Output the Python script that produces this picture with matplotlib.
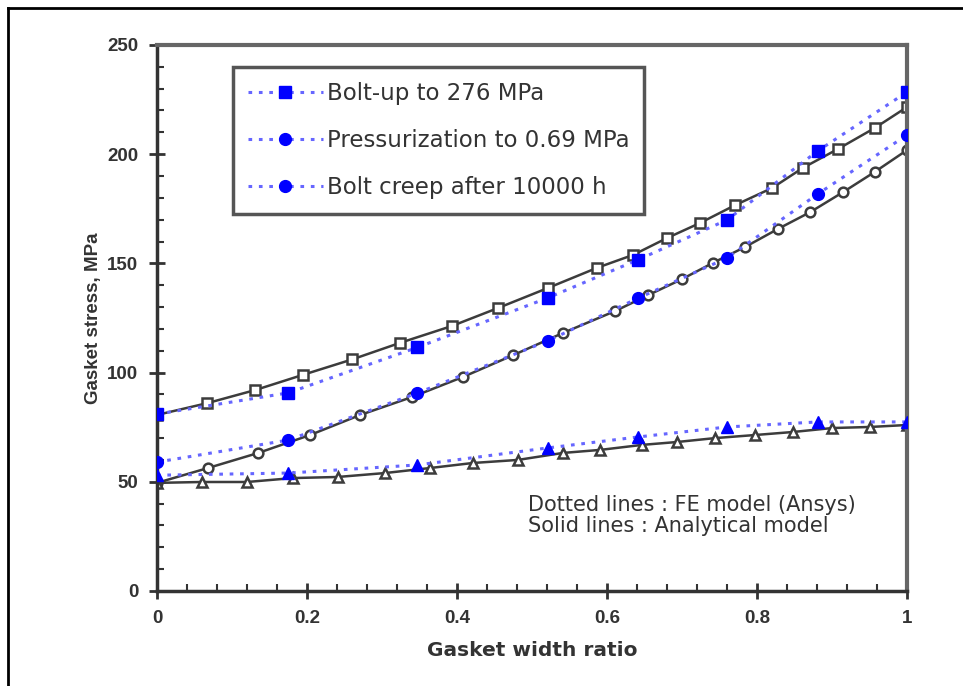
import matplotlib
matplotlib.use("Agg")
import matplotlib.pyplot as plt
from matplotlib.lines import Line2D

plt.rcParams['font.family'] = ['Liberation Sans', 'DejaVu Sans']

# analytical model (solid lines, open markers)
x_bolt_an = [0, 0.067, 0.131, 0.195, 0.26, 0.324, 0.393, 0.455, 0.521, 0.587,
             0.635, 0.68, 0.724, 0.771, 0.82, 0.861, 0.908, 0.957, 1.0]
y_bolt_an = [80.6, 86, 92, 99, 106, 113.6, 121.3, 129.6, 138.7, 148,
             153.9, 161.6, 168.5, 176.7, 184.5, 193.7, 202.4, 212, 221.6]

x_press_an = [0, 0.068, 0.135, 0.204, 0.271, 0.34, 0.408, 0.475, 0.541, 0.611,
              0.655, 0.7, 0.741, 0.784, 0.828, 0.871, 0.915, 0.957, 1.0]
y_press_an = [49.5, 56.3, 63.2, 71.4, 80.6, 88.8, 98, 108, 118.1, 128.2,
              135.5, 142.8, 150.2, 157.5, 165.8, 173.5, 182.7, 191.9, 201.9]

x_creep_an = [0, 0.06, 0.12, 0.181, 0.241, 0.304, 0.364, 0.421, 0.481, 0.541,
              0.591, 0.647, 0.693, 0.744, 0.797, 0.848, 0.9, 0.951, 1.0]
y_creep_an = [49.5, 49.9, 49.9, 51.7, 52.2, 54, 56.3, 58.6, 60, 63.2,
              64.6, 66.9, 68.2, 70, 71.4, 72.8, 74.6, 75.1, 76]

# FE model (dotted lines, filled markers)
x_fe = [0, 0.175, 0.347, 0.521, 0.641, 0.76, 0.881, 1.0]
y_bolt_fe = [81, 90.7, 111.5, 134.2, 151.6, 169.9, 201.5, 228.5]
y_press_fe = [59, 69.1, 90.6, 114.5, 134, 152.5, 181.8, 208.8]
y_creep_fe = [53, 54, 57.7, 65.5, 70.5, 75.1, 77.4, 77.4]

labels = ["Bolt-up to 276 MPa", "Pressurization to 0.69 MPa", "Bolt creep after 10000 h"]

xticks = [0, 0.2, 0.4, 0.6, 0.8, 1.0]
xtick_labels = ["0", "0.2", "0.4", "0.6", "0.8", "1"]
yticks = [0, 50, 100, 150, 200, 250]
ytick_labels = ["0", "50", "100", "150", "200", "250"]

fig = plt.figure(figsize=(9.63, 6.86), dpi=100)
ax = fig.add_axes([0.163, 0.1385, 0.779, 0.796])

an_color = '#3c3c3c'
fe_color = '#0000ff'
dot_color = '#6666ff'
dots = (0, (1.2, 2.2))

# analytical curves
ax.plot(x_bolt_an, y_bolt_an, '-', color=an_color, lw=1.8, marker='s', ms=7.5,
        mfc='white', mec=an_color, mew=1.8, zorder=2)
ax.plot(x_press_an, y_press_an, '-', color=an_color, lw=1.8, marker='o', ms=7,
        mfc='white', mec=an_color, mew=1.8, zorder=2)
ax.plot(x_creep_an, y_creep_an, '-', color=an_color, lw=1.8, marker='^', ms=7,
        mfc='white', mec=an_color, mew=1.8, zorder=2)

# FE curves
ax.plot(x_fe, y_bolt_fe, linestyle=dots, color=dot_color, lw=2.2, zorder=3)
ax.plot(x_fe, y_bolt_fe, 's', color=fe_color, ms=9, zorder=4)
ax.plot(x_fe, y_press_fe, linestyle=dots, color=dot_color, lw=2.2, zorder=3)
ax.plot(x_fe, y_press_fe, 'o', color=fe_color, ms=8.5, zorder=4)
ax.plot(x_fe, y_creep_fe, linestyle=dots, color=dot_color, lw=2.2, zorder=3)
ax.plot(x_fe, y_creep_fe, '^', color=fe_color, ms=8.5, zorder=4)

ax.set_xlim(0, 1)
ax.set_ylim(0, 250)
ax.set_xticks(xticks, xtick_labels)
ax.set_yticks(yticks, ytick_labels)
ax.set_xticks([i * 0.04 for i in range(26)], minor=True)
ax.set_yticks(list(range(0, 251, 10)), minor=True)
ax.tick_params(which='major', direction='inout', length=11, width=2, color='#333333',
               labelsize=13.5, pad=8)
ax.tick_params(which='minor', direction='in', length=5, width=1.5, color='#333333')
for lab in ax.get_xticklabels() + ax.get_yticklabels():
    lab.set_fontweight('bold')
    lab.set_color('#333333')

for side in ['left', 'bottom']:
    ax.spines[side].set_color('#333333')
    ax.spines[side].set_linewidth(2.5)
for side in ['top', 'right']:
    ax.spines[side].set_color('#666666')
    ax.spines[side].set_linewidth(3)

ax.set_xlabel("Gasket width ratio", fontsize=14.5, fontweight='bold', color='#333333',
              labelpad=10, family=['DejaVu Sans'])
ax.set_ylabel("Gasket stress, MPa", fontsize=13.5, fontweight='bold', color='#333333',
              labelpad=4)

handles = [
    Line2D([], [], linestyle=dots, color=dot_color, lw=2.2, marker='s', ms=9,
           mfc=fe_color, mec=fe_color),
    Line2D([], [], linestyle=dots, color=dot_color, lw=2.2, marker='o', ms=8.5,
           mfc=fe_color, mec=fe_color),
    Line2D([], [], linestyle=dots, color=dot_color, lw=2.2, marker='o', ms=8.5,
           mfc=fe_color, mec=fe_color),
]
leg = ax.legend(handles, labels, loc='upper left', bbox_to_anchor=(0.101, 0.96),
                borderaxespad=0, prop={'family': 'DejaVu Sans', 'size': 16.5},
                labelspacing=1.05, handlelength=3.3, handletextpad=0.15, borderpad=0.65,
                fancybox=False, framealpha=1)
leg.get_frame().set_edgecolor('#555555')
leg.get_frame().set_linewidth(2.5)
for t in leg.get_texts():
    t.set_color('#333333')

ax.text(0.494, 0.138, "Dotted lines : FE model (Ansys)\nSolid lines : Analytical model",
        transform=ax.transAxes, fontsize=15, color='#333333', linespacing=1.05,
        va='center', ha='left', family=['DejaVu Sans'])

# outer frame (top and left only)
fig.add_artist(Line2D([0.008, 1.0], [0.988, 0.988], transform=fig.transFigure,
                      color='black', lw=2))
fig.add_artist(Line2D([0.008, 0.008], [0.0, 0.988], transform=fig.transFigure,
                      color='black', lw=2))

fig.savefig("out.png", dpi=100)
